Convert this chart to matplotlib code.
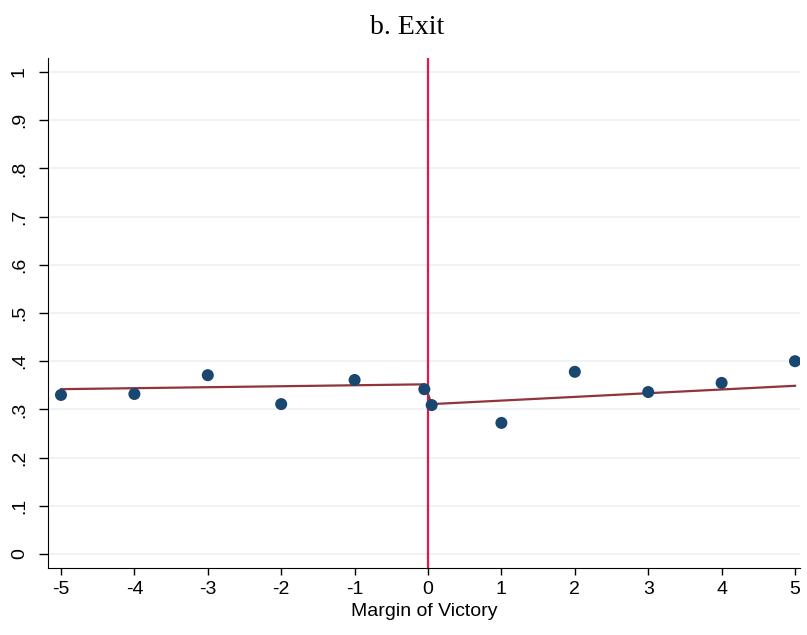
import matplotlib
matplotlib.use("Agg")
import matplotlib.pyplot as plt

# Data
bin_x = [-5, -4, -3, -2, -1, -0.05, 0.05, 1, 2, 3, 4, 5]
bin_y = [0.330, 0.332, 0.371, 0.311, 0.361, 0.342, 0.309, 0.272, 0.378, 0.336, 0.355, 0.400]
fit_x = [-5, -0.05, 0.05, 5]
fit_y = [0.342, 0.352, 0.311, 0.349]
x_ticks = [-5, -4, -3, -2, -1, 0, 1, 2, 3, 4, 5]
y_ticks = [0, 0.1, 0.2, 0.3, 0.4, 0.5, 0.6, 0.7, 0.8, 0.9, 1.0]
y_labels = ["0", ".1", ".2", ".3", ".4", ".5", ".6", ".7", ".8", ".9", "1"]

fig = plt.figure(figsize=(8.07, 6.35), dpi=100)
ax = fig.add_axes([48/807, 67/635, 752/807, 510/635])

sans = ["Liberation Sans", "DejaVu Sans"]
for yv in y_ticks:
    ax.axhline(yv, color="#eaf2f3", lw=1.2, zorder=0)

ax.axvline(0, color="#e8174a", lw=1.6, zorder=1)
ax.plot(fit_x, fit_y, color="#90353b", lw=1.6, zorder=2)
ax.scatter(bin_x, bin_y, s=75, color="#1a476f", zorder=3, edgecolors="none")

ax.set_xlim(-5.177, 5.068)
ax.set_ylim(-0.029, 1.029)
ax.set_xticks(x_ticks)
ax.set_xticklabels([str(v) for v in x_ticks], fontsize=14, family=sans)
ax.set_yticks(y_ticks)
ax.set_yticklabels(y_labels, fontsize=14, family=sans, rotation=90, va="center")
ax.tick_params(axis="x", length=5, width=1, color="black", pad=4)
ax.tick_params(axis="y", length=6.5, width=1, color="black", pad=8)
ax.spines["top"].set_visible(False)
ax.spines["right"].set_visible(False)
ax.set_xlabel("Margin of Victory", fontsize=14, family=sans, labelpad=4)
fig.text(0.505, 1 - 27/635, "b. Exit", ha="center", va="center", fontsize=20,
         family=["Liberation Serif", "DejaVu Serif"])

fig.savefig("out.png", dpi=100)
